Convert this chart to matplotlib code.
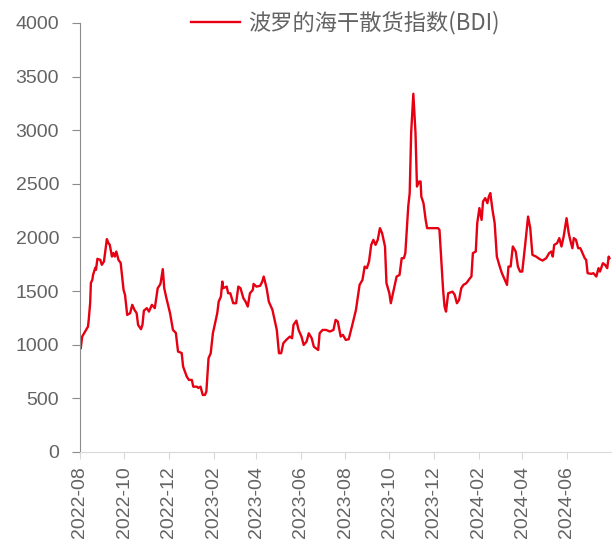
import numpy as np
import pandas as pd
import matplotlib
matplotlib.use('Agg')
import matplotlib.pyplot as plt
import matplotlib.dates as mdates

# BDI: days after 2022-08-01 and index value
days = [0, 1, 3, 7, 11, 12, 14, 15, 17, 18, 21, 22, 24, 28, 30, 33, 37, 39, 41, 44,
        46, 48, 50, 53, 56, 60, 62, 65, 69, 72, 75, 78, 80, 84, 86, 88, 92, 95, 99, 103,
        107, 110, 111, 114, 116, 119, 124, 128, 132, 135, 140, 142, 147, 150, 154, 156, 161, 163, 166, 169,
        172, 174, 177, 180, 183, 186, 189, 191, 194, 196, 197, 202, 204, 207, 211, 215, 218, 221, 225, 228,
        231, 234, 238, 239, 243, 248, 251, 253, 257, 260, 265, 268, 271, 274, 277, 280, 284, 289, 292, 294,
        298, 301, 305, 308, 312, 315, 319, 322, 328, 330, 334, 339, 344, 349, 352, 355, 359, 362, 366, 370,
        375, 380, 385, 389, 392, 395, 398, 401, 404, 407, 410, 413, 416, 420, 422, 426, 428, 431, 433, 436,
        440, 443, 446, 448, 452, 454, 456, 459, 462, 464, 467, 469, 470, 473, 476, 478, 493, 495, 498, 500,
        502, 504, 507, 513, 516, 519, 522, 525, 528, 532, 537, 539, 541, 545, 547, 550, 553, 555, 558, 561,
        563, 565, 568, 571, 574, 578, 581, 585, 588, 590, 593, 596, 600, 603, 606, 609, 613, 617, 620, 623,
        628, 633, 637, 642, 646, 649, 651, 653, 657, 660, 663, 666, 670, 673, 675, 678, 680, 683, 686, 689,
        692, 695, 697, 699, 704, 707, 711, 714, 716, 720, 723, 726, 728, 729]
bdi = [1010, 965, 1076, 1123, 1169, 1232, 1390, 1577, 1605, 1651, 1717, 1698, 1801, 1791, 1745, 1776, 1985, 1950, 1931, 1822,
       1854, 1822, 1869, 1791, 1763, 1511, 1465, 1278, 1294, 1372, 1325, 1294, 1185, 1145, 1185, 1318, 1341, 1309, 1372, 1341,
       1527, 1558, 1574, 1705, 1527, 1434, 1294, 1138, 1110, 936, 923, 796, 703, 672, 672, 609, 609, 597, 609, 532,
       532, 563, 874, 921, 1107, 1201, 1294, 1402, 1449, 1589, 1527, 1542, 1480, 1480, 1387, 1387, 1542, 1527, 1434, 1402,
       1356, 1480, 1511, 1567, 1542, 1549, 1589, 1636, 1527, 1402, 1325, 1232, 1138, 921, 921, 1014, 1045, 1076, 1061, 1185,
       1225, 1138, 1076, 998, 1029, 1107, 1061, 982, 951, 1107, 1138, 1138, 1123, 1138, 1232, 1216, 1076, 1092, 1045, 1051,
       1185, 1325, 1558, 1605, 1729, 1714, 1776, 1931, 1978, 1931, 1978, 2087, 2040, 1916, 1574, 1480, 1387, 1480, 1542, 1636,
       1651, 1807, 1807, 1854, 2289, 2414, 2974, 3340, 2974, 2475, 2522, 2522, 2382, 2320, 2164, 2087, 2087, 2071, 1729, 1511,
       1356, 1309, 1480, 1495, 1465, 1387, 1418, 1527, 1558, 1574, 1620, 1636, 1854, 1869, 2134, 2274, 2164, 2335, 2367, 2320,
       2382, 2414, 2258, 2134, 1822, 1729, 1667, 1605, 1558, 1729, 1729, 1916, 1869, 1729, 1682, 1682, 1931, 2195, 2087, 1838,
       1822, 1798, 1785, 1807, 1854, 1869, 1822, 1931, 1947, 1994, 1916, 2009, 2180, 2040, 1978, 1900, 1994, 1978, 1900, 1900,
       1854, 1807, 1791, 1667, 1661, 1667, 1636, 1714, 1682, 1760, 1745, 1714, 1822, 1807]

start = pd.Timestamp('2022-08-01')
dates = [start + pd.Timedelta(days=d) for d in days]
tick_dates = pd.date_range('2022-08-01', '2024-06-01', freq='2MS')

plt.rcParams['font.family'] = ['Liberation Sans', 'DejaVu Sans']

fig = plt.figure(figsize=(6.13, 5.47), dpi=100)
ax = fig.add_axes([0.1305, 0.1737, 0.866, 0.7843])

ax.plot(dates, bdi, color='#E60012', linewidth=1.7, label='波罗的海干散货指数(BDI)')

ax.set_ylim(0, 4000)
ax.set_yticks(np.arange(0, 4001, 500))
ax.set_xlim(start, pd.Timestamp('2024-08-01'))
ax.set_xticks(tick_dates)
ax.xaxis.set_major_formatter(mdates.DateFormatter('%Y-%m'))

for s in ['top', 'right']:
    ax.spines[s].set_visible(False)
ax.spines['left'].set_color('#8C8C8C')
ax.spines['bottom'].set_color('#D9D9D9')

ax.tick_params(axis='y', colors='#8C8C8C', labelcolor='#636363', labelsize=14, length=6, pad=9)
ax.tick_params(axis='x', colors='#D9D9D9', labelcolor='#636363', labelsize=14, length=5,
               rotation=90, pad=5)

leg = ax.legend(loc='center', bbox_to_anchor=(0.5, 1.0), frameon=False, handlelength=2.2,
                handletextpad=0.4, prop={'family': ['Noto Sans CJK SC', 'DejaVu Sans'], 'size': 16})
for t in leg.get_texts():
    t.set_color('#636363')

fig.savefig('out.png', dpi=100)
